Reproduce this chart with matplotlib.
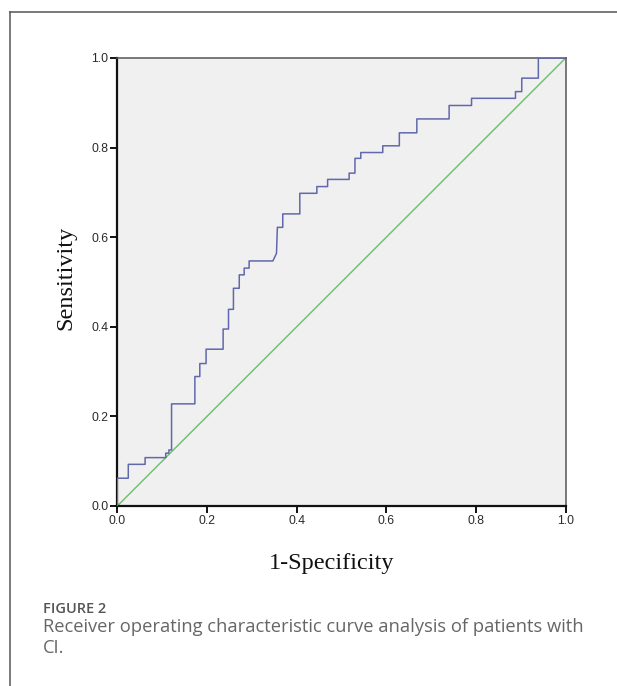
import numpy as np
import matplotlib.pyplot as plt
from matplotlib.lines import Line2D

# ROC curve vertices
fpr = [0.0, 0.0, 0.0245, 0.0245, 0.062, 0.062, 0.108, 0.108, 0.115, 0.115,
       0.121, 0.121, 0.173, 0.173, 0.184, 0.184, 0.198, 0.198, 0.236, 0.236,
       0.248, 0.248, 0.259, 0.259, 0.272, 0.272, 0.283, 0.283, 0.294, 0.294,
       0.347, 0.355, 0.357, 0.369, 0.369, 0.407, 0.407, 0.445, 0.445, 0.469,
       0.469, 0.517, 0.517, 0.530, 0.530, 0.543, 0.543, 0.592, 0.592, 0.629,
       0.629, 0.668, 0.668, 0.740, 0.740, 0.790, 0.790, 0.888, 0.888, 0.902,
       0.902, 0.939, 0.939, 1.0]
tpr = [0.0, 0.062, 0.062, 0.093, 0.093, 0.108, 0.108, 0.118, 0.118, 0.125,
       0.125, 0.228, 0.228, 0.289, 0.289, 0.318, 0.318, 0.350, 0.350, 0.395,
       0.395, 0.439, 0.439, 0.486, 0.486, 0.516, 0.516, 0.531, 0.531, 0.547,
       0.547, 0.564, 0.622, 0.622, 0.652, 0.652, 0.698, 0.698, 0.713, 0.713,
       0.729, 0.729, 0.743, 0.743, 0.776, 0.776, 0.789, 0.789, 0.804, 0.804,
       0.833, 0.833, 0.864, 0.864, 0.894, 0.894, 0.910, 0.910, 0.925, 0.925,
       0.955, 0.955, 1.0, 1.0]
ref_line = [0.0, 1.0]
ticks = [0.0, 0.2, 0.4, 0.6, 0.8, 1.0]

W, H = 617, 686
fig = plt.figure(figsize=(W / 100, H / 100), dpi=100)

# axes box: x 117..566 px, y 58..506 px
ax = fig.add_axes([117.3 / W, 1 - 506 / H, 448.4 / W, 448 / H])
ax.set_facecolor('#f0f0f0')
ax.plot(ref_line, ref_line, color='#74c274', lw=1.1, zorder=2)
ax.plot(fpr, tpr, color='#6268ad', lw=1.1, zorder=3)

ax.set_xlim(0, 1)
ax.set_ylim(0, 1)
ax.set_xticks(ticks)
ax.set_yticks(ticks)
ax.set_xticklabels(['{:.1f}'.format(t) for t in ticks], fontfamily='Liberation Sans', fontsize=8.8, color='#2a2a2a')
ax.set_yticklabels(['{:.1f}'.format(t) for t in ticks], fontfamily='Liberation Sans', fontsize=8.8, color='#2a2a2a')
ax.tick_params(direction='out', length=5, width=1.4, color='#111111', pad=1.5)

for side in ['left', 'bottom']:
    ax.spines[side].set_linewidth(1.6)
    ax.spines[side].set_color('#111111')
for side in ['top', 'right']:
    ax.spines[side].set_linewidth(1.1)
    ax.spines[side].set_color('#555555')

fig.text(332 / W, 1 - 563 / H, '1-Specificity', fontfamily='Liberation Serif', fontsize=17.5,
         ha='center', va='center', color='#111111')
fig.text(66 / W, 1 - 278 / H, 'Sensitivity', fontfamily='Liberation Serif', fontsize=17.5,
         ha='center', va='center', rotation=90, color='#111111')

# outer frame of the figure panel
fig.add_artist(Line2D([9.5 / W, 9.5 / W], [0, 1 - 12.3 / H], transform=fig.transFigure, color='#555555', lw=1.1))
fig.add_artist(Line2D([9.5 / W, 1], [1 - 12.3 / H, 1 - 12.3 / H], transform=fig.transFigure, color='#555555', lw=1.1))

# caption
fig.text(43 / W, 1 - 609 / H, 'FIGURE 2', fontfamily='Open Sans', fontsize=10.5, fontweight='semibold',
         ha='left', va='center', color='#555555')
fig.text(43 / W, 1 - 627 / H, 'Receiver operating characteristic curve analysis of patients with',
         fontfamily='Open Sans', fontsize=13.25, ha='left', va='center', color='#666666')
fig.text(43 / W, 1 - 648 / H, 'CI.', fontfamily='Open Sans', fontsize=13.25, ha='left', va='center', color='#666666')

fig.savefig('out.png', dpi=100)
